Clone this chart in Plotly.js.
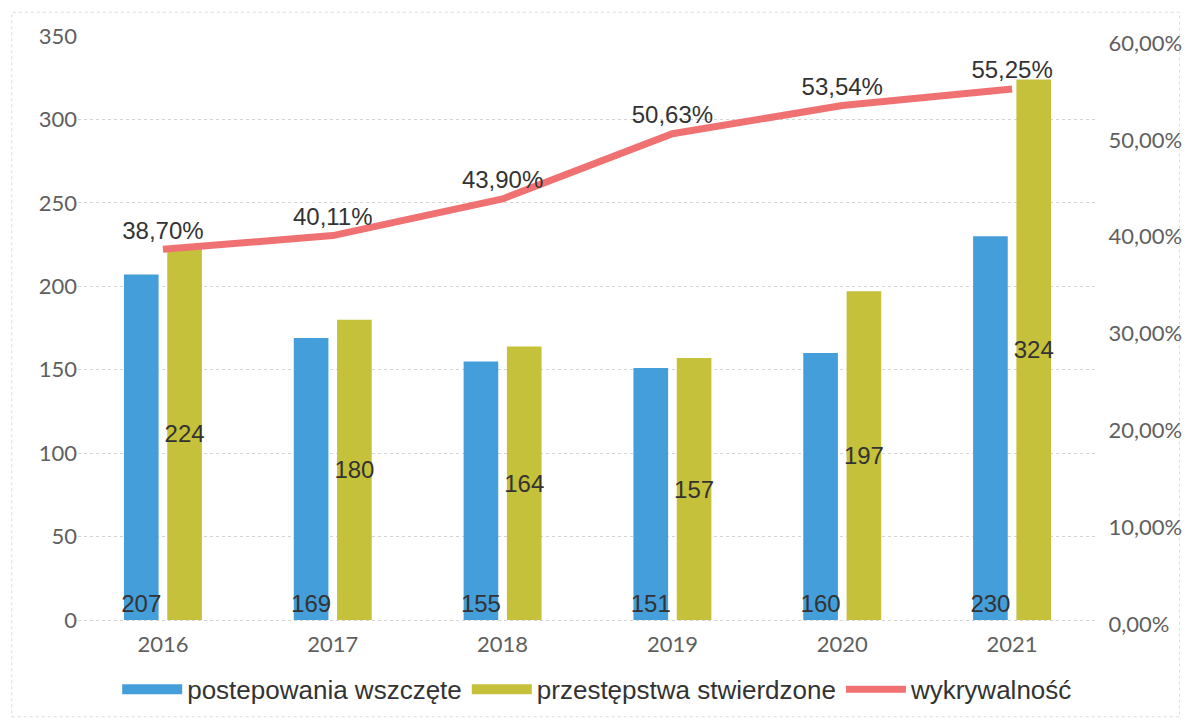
<!DOCTYPE html>
<html><head><meta charset="utf-8">
<script src="https://cdn.plot.ly/plotly-3.0.1.min.js"></script>
<style>html,body{margin:0;padding:0;background:#fff}#chart{width:1190px;height:725px}</style>
</head><body><div id="chart"></div>
<script>
var years = ['2016','2017','2018','2019','2020','2021'];
var postepowania = [207,169,155,151,160,230];
var przestepstwa = [224,180,164,157,197,324];
var wykrywalnosc = [0.3870,0.4011,0.4390,0.5063,0.5354,0.5525];
var names = ['postepowania wszczęte','przestępstwa stwierdzone','wykrywalność'];
var colors = ['#449ed9','#c5c13b','#f07172'];

var labelFont = {family:'Liberation Sans, Arial, sans-serif', size:24, color:'#333333'};
var traces = [
  {type:'bar', x:years, y:postepowania, name:names[0], marker:{color:colors[0]}, showlegend:false,
   text:postepowania.map(String), textposition:'inside', insidetextanchor:'start',
   textangle:0, constraintext:'none', textfont:labelFont, hoverinfo:'y'},
  {type:'bar', x:years, y:przestepstwa, name:names[1], marker:{color:colors[1]}, showlegend:false,
   text:przestepstwa.map(String), textposition:'inside', insidetextanchor:'middle',
   textangle:0, constraintext:'none', textfont:labelFont, hoverinfo:'y'},
  // legend-only swatches for the two bar series (wide rectangles as in the original)
  {type:'scatter', mode:'lines', x:[years[0]], y:[null], name:names[0],
   line:{color:colors[0], width:15}, hoverinfo:'skip'},
  {type:'scatter', mode:'lines', x:[years[0]], y:[null], name:names[1],
   line:{color:colors[1], width:15}, hoverinfo:'skip'},
  {type:'scatter', mode:'lines+markers+text', x:years, y:wykrywalnosc, name:names[2], yaxis:'y2',
   line:{color:colors[2], width:7}, marker:{size:6, color:'rgba(0,0,0,0)'},
   texttemplate:'%{y:.2%}', textposition:'top center',
   textfont:{family:'Liberation Sans, Arial, sans-serif', size:24, color:'#333333'}}
];

var tickFont = {family:'Lato, Open Sans, sans-serif', size:22, color:'#5f5f5f'};
var layout = {
  width:1190, height:725,
  margin:{l:78, r:93, t:36, b:93},
  paper_bgcolor:'#ffffff', plot_bgcolor:'#ffffff',
  separators:',.',
  barmode:'group', bargap:0.49, bargroupgap:0.2,
  showlegend:true,
  legend:{orientation:'h', x:0.51, xanchor:'center', y:-0.062, yanchor:'top',
          font:{family:'Liberation Sans, Arial, sans-serif', size:26, color:'#333333'},
          itemwidth:60, traceorder:'normal'},
  xaxis:{type:'category', tickfont:tickFont, showline:false, showgrid:false, ticks:'', ticklen:0,
         zeroline:false},
  yaxis:{range:[-5.37,350], dtick:50, tick0:0, tickfont:tickFont, showgrid:true, gridcolor:'#d4d4d4',
         griddash:'dot', gridwidth:1, zeroline:false, showline:false, ticks:'', ticklen:0},
  yaxis2:{range:[-0.0051,0.6072], dtick:0.1, tick0:0, tickformat:'.2%', overlaying:'y', side:'right',
          tickfont:tickFont, showgrid:false, zeroline:false, showline:false, ticks:'outside', ticklen:6, tickcolor:'rgba(0,0,0,0)'},
  shapes:[{type:'rect', xref:'paper', yref:'paper', x0:-0.065, x1:1.081, y0:-0.148, y1:1.040,
           line:{color:'#dddddd', width:1, dash:'dot'}, fillcolor:'rgba(0,0,0,0)', layer:'below'}]
};
Plotly.newPlot('chart', traces, layout, {displayModeBar:false, staticPlot:true});
</script></body></html>
